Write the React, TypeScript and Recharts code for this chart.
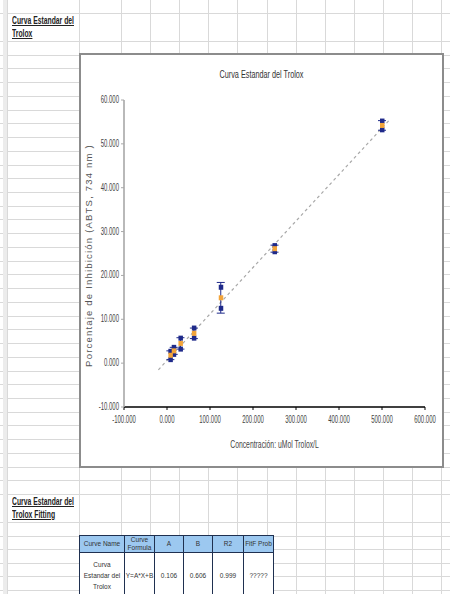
import React from "react";
import { ScatterChart, Scatter, XAxis, YAxis, ErrorBar, ReferenceLine, Label } from "recharts";

// Trolox standard curve: concentration (uMol/L) vs % inhibition
const concentrations = [7.8, 15.6, 31.25, 62.5, 125, 250, 500];
const replicateHigh = [2.7, 3.6, 5.7, 8.0, 17.3, 26.8, 55.2];
const replicateLow = [0.8, 2.0, 3.2, 5.7, 12.5, 25.4, 53.2];
const meanInhibition = [1.8, 2.8, 4.5, 6.8, 14.9, 26.1, 54.2];
const stdDev = [1.0, 0.8, 1.3, 1.2, 3.5, 0.8, 1.1];

const xTicks = [-100, 0, 100, 200, 300, 400, 500, 600];
const yTicks = [-10, 0, 10, 20, 30, 40, 50, 60];

// linear fit Y = A*X + B
const fitA = 0.106;
const fitB = 0.606;
const fitR2 = 0.999;
const fitRange = [-20, 520];

const tableHeaders = ["Curve Name", "Curve Formula", "A", "B", "R2", "FitF Prob"];
const tableRow = ["Curva Estandar del Trolox", "Y=A*X+B", fitA.toFixed(3), fitB.toFixed(3), fitR2.toFixed(3), "?????"];
const tableWidths = [44, 29, 28, 28, 30, 29];

const meanData = concentrations.map((x, i) => ({ x, y: meanInhibition[i], err: stdDev[i] }));
const highData = concentrations.map((x, i) => ({ x, y: replicateHigh[i] }));
const lowData = concentrations.map((x, i) => ({ x, y: replicateLow[i] }));

const sans = "'Liberation Sans', Arial, sans-serif";
const gridColor = "#d9d9d9";
const textColor = "#444";

const hLines: number[] = [13, 41];
for (let y = 41 + 13.73; y < 495; y += 13.73) hLines.push(y);
hLines.push(522);
for (let y = 522 + 13.6; y < 594; y += 13.6) hLines.push(y);
const vLines: number[] = [7, 79];
for (let x = 121; x < 450; x += 29.1) vLines.push(x);

const marker = (fill: string) => (p: any) =>
  <rect x={p.cx - 2} y={p.cy - 2.5} width={4.5} height={5} fill={fill} />;

const fmt = (v: number) => v.toFixed(3);

// Excel draws these labels in a condensed face, so squeeze them horizontally
const squeezedTick = (shiftX: number, shiftY: number) => (p: any) => (
  <g transform={`translate(${p.x + shiftX},${p.y + shiftY}) scale(0.6,1)`}>
    <text x={0} y={0} textAnchor={p.textAnchor} dominantBaseline="central" fontSize={10} fill={textColor} fontFamily={sans}>
      {fmt(p.payload.value)}
    </text>
  </g>
);

const Heading = ({ top, lines }: { top: number; lines: string[] }) => (
  <div style={{ position: "absolute", left: 12, top: top + 1, fontFamily: sans, fontSize: 10, fontWeight: "bold", lineHeight: "13px", color: "#222", transform: "scaleX(0.68)", transformOrigin: "left top", whiteSpace: "nowrap" }}>
    {lines.map((l) => (
      <div key={l} style={{ textDecoration: "underline" }}>{l}</div>
    ))}
  </div>
);

export default function App() {
  return (
    <div style={{ position: "absolute", left: 0, top: 0, width: 450, height: 594, overflow: "hidden", background: "#fff", fontFamily: sans }}>
      {hLines.map((y) => (
        <div key={"h" + y} style={{ position: "absolute", left: 0, top: y, width: 450, height: 1, background: gridColor }} />
      ))}
      {vLines.map((x) => (
        <div key={"v" + x} style={{ position: "absolute", left: x, top: 0, width: 1, height: 594, background: gridColor }} />
      ))}
      <div style={{ position: "absolute", left: 3, top: 0, width: 4, height: 594, background: "#ececec" }} />

      <Heading top={13} lines={["Curva Estandar del", "Trolox"]} />
      <Heading top={494} lines={["Curva Estandar del", "Trolox Fitting"]} />

      <div style={{ position: "absolute", left: 79, top: 53, width: 365, height: 415, boxSizing: "border-box", border: "2px solid #8c8c8c", background: "#fff" }}>
        <div style={{ position: "absolute", left: 0, top: 13, width: 361, textAlign: "center", fontSize: 11, lineHeight: "12px", color: "#333", transform: "scaleX(0.66)", transformOrigin: "center top", whiteSpace: "nowrap" }}>
          Curva Estandar del Trolox
        </div>
        <ScatterChart width={361} height={411} margin={{ top: 45, right: 17, bottom: 0, left: 0 }}>
          <XAxis
            type="number"
            dataKey="x"
            domain={[-100, 600]}
            ticks={xTicks}
            height={59}
            allowDataOverflow
            axisLine={{ stroke: "#000", strokeWidth: 1.4 }}
            tickLine={{ stroke: "#000" }}
            tickSize={3}
            tick={squeezedTick(0, 8)}
          >
            <Label
              content={({ viewBox }: any) => {
                const cx = viewBox.x + viewBox.width / 2;
                const cy = viewBox.y + 37;
                return (
                  <g transform={`translate(${cx},${cy}) scale(0.62,1)`}>
                    <text x={0} y={0} textAnchor="middle" dominantBaseline="central" fontSize={11} fill={textColor} fontFamily={sans}>
                      Concentración: uMol Trolox/L
                    </text>
                  </g>
                );
              }}
            />
          </XAxis>
          <YAxis
            type="number"
            dataKey="y"
            domain={[-10, 60]}
            ticks={yTicks}
            width={43}
            allowDataOverflow
            axisLine={{ stroke: "#a8a8a8", strokeWidth: 1.6 }}
            tickLine={{ stroke: "#a8a8a8" }}
            tickSize={3}
            tick={squeezedTick(0, 0)}
          >
            <Label
              content={({ viewBox }: any) => {
                const cx = viewBox.x + 7;
                const cy = viewBox.y + viewBox.height / 2 + 2;
                return (
                  <text x={cx} y={cy} transform={`rotate(-90, ${cx}, ${cy})`} textAnchor="middle" dominantBaseline="central" fontSize={9.5} fill="#555" fontFamily={sans} letterSpacing={1.2}>
                    Porcentaje de Inhibición (ABTS, 734 nm )
                  </text>
                );
              }}
            />
          </YAxis>
          <ReferenceLine
            segment={[
              { x: fitRange[0], y: fitA * fitRange[0] + fitB },
              { x: fitRange[1], y: fitA * fitRange[1] + fitB },
            ]}
            stroke="#a8a8a8"
            strokeWidth={1.2}
            strokeDasharray="3 3"
            ifOverflow="visible"
          />
          <Scatter data={highData} shape={marker("#1f2a8a")} isAnimationActive={false} />
          <Scatter data={lowData} shape={marker("#1f2a8a")} isAnimationActive={false} />
          <Scatter data={meanData} shape={marker("#f2a43a")} isAnimationActive={false}>
            <ErrorBar dataKey="err" direction="y" width={4} stroke="#1f2a8a" strokeWidth={1} isAnimationActive={false} />
          </Scatter>
        </ScatterChart>
      </div>

      <table style={{ position: "absolute", left: 79, top: 535, borderCollapse: "collapse", fontFamily: sans, fontSize: 6.5, color: "#333", background: "#fff" }}>
        <tbody>
          <tr style={{ height: 17 }}>
            {tableHeaders.map((h, i) => (
              <td key={h} style={{ width: tableWidths[i], background: "#9cc8f0", border: "1px solid #1f3050", textAlign: "center", lineHeight: "8px", padding: 0 }}>{h}</td>
            ))}
          </tr>
          <tr style={{ height: 46 }}>
            {tableRow.map((c, i) => (
              <td key={i} style={{ width: tableWidths[i], border: "1px solid #1f3050", textAlign: "center", verticalAlign: "top", paddingTop: 6, lineHeight: "11px", paddingLeft: 0, paddingRight: 0 }}>
                <div style={{ marginTop: i === 0 ? 0 : 11 }}>{c}</div>
              </td>
            ))}
          </tr>
        </tbody>
      </table>
    </div>
  );
}
